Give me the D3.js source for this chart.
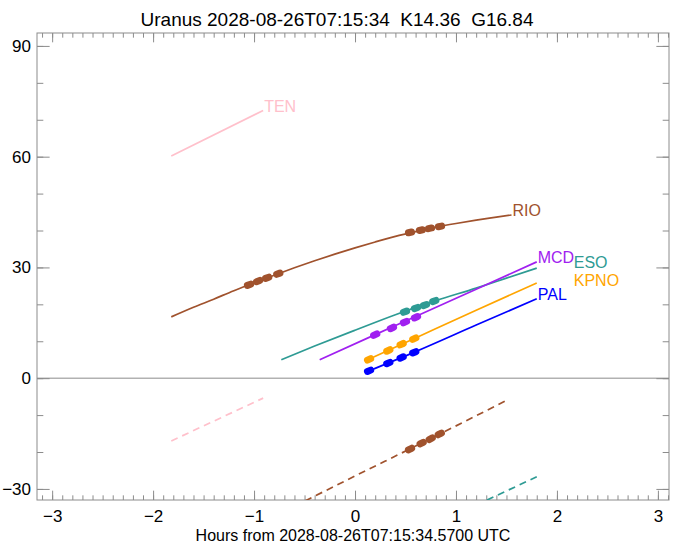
<!DOCTYPE html>
<html>
<head>
<meta charset="utf-8">
<script src="https://d3js.org/d3.v7.min.js"></script>
<style>
  body { margin: 0; background: #fff; }
  svg { display: block; font-family: "Liberation Sans", Arial, sans-serif; }
</style>
</head>
<body>
<script>
const hourTicks = [-3, -2, -1, 0, 1, 2, 3]
const altTicks = [-30, 0, 30, 60, 90]

const tenX = [-1.82, -0.91]
const tenY = [60.2, 72.5]
const tenDashX = [-1.82, -0.91]
const tenDashY = [-17.0, -5.4]

const rioX = [-1.82, -1.6, -1.4, -1.2, -1.0, -0.8, -0.6, -0.4, -0.2, 0, 0.2, 0.4, 0.6, 0.8, 1.0, 1.2, 1.4, 1.55]
const rioY = [16.6, 19.2, 21.4, 23.7, 25.8, 27.9, 29.9, 31.8, 33.6, 35.3, 36.9, 38.4, 39.7, 40.9, 41.9, 42.8, 43.6, 44.2]
const rioDashX = [-0.6, 0, 0.6, 1.51]
const rioDashY = [-34.7, -26.5, -18.4, -5.9]

const esoX = [-0.73, -0.4, 0, 0.4, 0.8, 1.2, 1.5, 1.8]
const esoY = [5.0, 8.7, 13.0, 17.2, 21.0, 24.4, 27.1, 29.8]
const esoDashX = [1.2, 1.8]
const esoDashY = [-34.4, -26.7]

const mcdX = [-0.35, 0.2, 0.6, 1.2, 1.8]
const mcdY = [5.0, 11.8, 16.7, 24.1, 31.5]

const kpnoX = [0.12, 0.6, 1.2, 1.8]
const kpnoY = [4.9, 10.9, 18.4, 25.8]

const palX = [0.14, 0.6, 1.2, 1.8]
const palY = [2.0, 7.2, 14.4, 21.5]

// observed chunks (centres)
const rioDotX = [-1.05, -0.96, -0.87, -0.76, 0.545, 0.653, 0.743, 0.842]
const rioDotY = [25.3, 26.3, 27.2, 28.3, 39.5, 40.1, 40.6, 41.1]
const rioDashDotX = [0.545, 0.66, 0.75, 0.84]
const rioDashDotY = [-19.2, -17.6, -16.4, -15.1]
const esoDotX = [0.495, 0.604, 0.693, 0.785]
const esoDotY = [18.0, 19.0, 19.8, 20.9]
const mcdDotX = [0.2, 0.366, 0.495, 0.604]
const mcdDotY = [11.8, 13.6, 15.2, 16.5]
const kpnoDotX = [0.139, 0.33, 0.462, 0.587]
const kpnoDotY = [5.1, 7.5, 9.2, 10.7]
const palDotX = [0.139, 0.33, 0.462, 0.587]
const palDotY = [2.0, 4.1, 5.6, 7.0]

const stations = [
  { name: 'TEN', color: '#ffc0cb', xs: tenX, ys: tenY, dx: tenDashX, dy: tenDashY, shift: 0, lift: 0 },
  { name: 'RIO', color: '#a0522d', xs: rioX, ys: rioY, dx: rioDashX, dy: rioDashY, shift: 0, lift: 0,
    dots: [rioDotX, rioDotY], dashDots: [rioDashDotX, rioDashDotY] },
  { name: 'ESO', color: '#2e9b94', xs: esoX, ys: esoY, dx: esoDashX, dy: esoDashY, shift: 36, lift: -1, dots: [esoDotX, esoDotY] },
  { name: 'MCD', color: '#a020f0', xs: mcdX, ys: mcdY, shift: 0, lift: 0, dots: [mcdDotX, mcdDotY] },
  { name: 'KPNO', color: '#ffa500', xs: kpnoX, ys: kpnoY, shift: 36, lift: 2, dots: [kpnoDotX, kpnoDotY] },
  { name: 'PAL', color: '#0000ff', xs: palX, ys: palY, shift: 0, lift: 0, dots: [palDotX, palDotY] }
]

const W = 674, H = 544
const box = { l: 37, r: 669, t: 33, b: 500 }
const axisColor = '#8c8c8c'

const x = d3.scaleLinear().domain([-3.15, 3.11]).range([box.l, box.r])
const y = d3.scaleLinear().domain([-33.0, 93.5]).range([box.b, box.t])

const svg = d3.select('body').append('svg').attr('width', W).attr('height', H)

svg.append('text')
  .attr('x', W / 2).attr('y', 26)
  .attr('text-anchor', 'middle')
  .style('font-size', '19px').style('white-space', 'pre')
  .text('Uranus 2028-08-26T07:15:34  K14.36  G16.84')

svg.append('text')
  .attr('x', (box.l + box.r) / 2).attr('y', 541)
  .attr('text-anchor', 'middle')
  .style('font-size', '16px')
  .text('Hours from 2028-08-26T07:15:34.5700 UTC')

// axes
const xLen = 0.02 * (box.b - box.t)
const yLen = 0.02 * (box.r - box.l)
const minorX = d3.range(-31, 32).map(d => d / 10)
const minorY = d3.range(-30, 91, 10)

function styleAxis(g) {
  g.select('.domain').remove()
  g.selectAll('.tick line').attr('stroke', axisColor)
  g.selectAll('.tick text').attr('fill', '#000').style('font-size', '17px').attr('font-family', null)
}

svg.append('g').attr('transform', `translate(0,${box.b})`)
  .call(d3.axisBottom(x).tickValues(minorX).tickSize(-xLen / 2).tickFormat(''))
  .call(styleAxis)
svg.append('g').attr('transform', `translate(0,${box.b})`)
  .call(d3.axisBottom(x).tickValues(hourTicks).tickSize(-xLen).tickPadding(10).tickFormat(d3.format('d')))
  .call(styleAxis)
svg.append('g').attr('transform', `translate(0,${box.t})`)
  .call(d3.axisTop(x).tickValues(minorX).tickSize(-xLen / 2).tickFormat(''))
  .call(styleAxis)
svg.append('g').attr('transform', `translate(0,${box.t})`)
  .call(d3.axisTop(x).tickValues(hourTicks).tickSize(-xLen).tickFormat(''))
  .call(styleAxis)
svg.append('g').attr('transform', `translate(${box.l},0)`)
  .call(d3.axisLeft(y).tickValues(minorY).tickSize(-yLen / 2).tickFormat(''))
  .call(styleAxis)
svg.append('g').attr('transform', `translate(${box.l},0)`)
  .call(d3.axisLeft(y).tickValues(altTicks).tickSize(-yLen).tickPadding(6).tickFormat(d3.format('d')))
  .call(styleAxis)
svg.append('g').attr('transform', `translate(${box.r},0)`)
  .call(d3.axisRight(y).tickValues(minorY).tickSize(-yLen / 2).tickFormat(''))
  .call(styleAxis)
svg.append('g').attr('transform', `translate(${box.r},0)`)
  .call(d3.axisRight(y).tickValues(altTicks).tickSize(-yLen).tickFormat(''))
  .call(styleAxis)

svg.append('rect')
  .attr('x', box.l).attr('y', box.t)
  .attr('width', box.r - box.l).attr('height', box.b - box.t)
  .attr('fill', 'none').attr('stroke', axisColor)

svg.append('line')
  .attr('x1', box.l).attr('x2', box.r)
  .attr('y1', y(0)).attr('y2', y(0))
  .attr('stroke', axisColor)

svg.append('clipPath').attr('id', 'clip')
  .append('rect')
  .attr('x', box.l).attr('y', box.t)
  .attr('width', box.r - box.l).attr('height', box.b - box.t)

const plot = svg.append('g').attr('clip-path', 'url(#clip)')
const line = d3.line().x(d => x(d[0])).y(d => y(d[1])).curve(d3.curveMonotoneX)

function slopeAt(xs, ys, v) {
  let i = d3.bisectLeft(xs, v)
  i = Math.max(1, Math.min(xs.length - 1, i))
  const dx = x(xs[i]) - x(xs[i - 1])
  const dy = y(ys[i]) - y(ys[i - 1])
  return dy / dx
}

function drawDots(s, dots, xs, ys) {
  const [dx, dy] = dots
  const half = 1.6
  plot.append('g').selectAll('line')
    .data(d3.zip(dx, dy))
    .join('line')
    .attr('x1', d => x(d[0]) - half)
    .attr('x2', d => x(d[0]) + half)
    .attr('y1', d => y(d[1]) - half * slopeAt(xs, ys, d[0]))
    .attr('y2', d => y(d[1]) + half * slopeAt(xs, ys, d[0]))
    .attr('stroke', s.color)
    .attr('stroke-width', 7)
    .attr('stroke-linecap', 'round')
}

stations.forEach(s => {
  plot.append('path')
    .attr('d', line(d3.zip(s.xs, s.ys)))
    .attr('fill', 'none').attr('stroke', s.color).attr('stroke-width', 1.7)
  if (s.dx) {
    plot.append('path')
      .attr('d', line(d3.zip(s.dx, s.dy)))
      .attr('fill', 'none').attr('stroke', s.color).attr('stroke-width', 1.7)
      .attr('stroke-dasharray', '7,5')
  }
  if (s.dots) drawDots(s, s.dots, s.xs, s.ys)
  if (s.dashDots) drawDots(s, s.dashDots, s.dx, s.dy)

  const n = s.xs.length - 1
  svg.append('text')
    .attr('x', x(s.xs[n]) + 1 + s.shift)
    .attr('y', y(s.ys[n]) + 1 + s.lift)
    .attr('fill', s.color)
    .style('font-size', '16px')
    .text(s.name)
})
</script>
</body>
</html>
